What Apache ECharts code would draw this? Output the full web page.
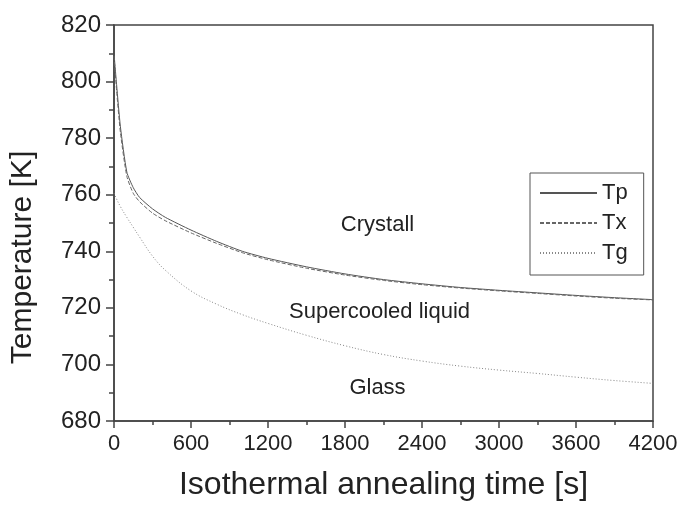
<!DOCTYPE html>
<html>
<head>
<meta charset="utf-8">
<script src="https://cdn.jsdelivr.net/npm/echarts@6/dist/echarts.min.js"></script>
<style>
html,body{margin:0;padding:0;background:#fff;}
#chart{width:681px;height:507px;}
</style>
</head>
<body>
<div id="chart"></div>
<script>
const times = [0, 20, 50, 100, 150, 200, 300, 400, 600, 800, 1000, 1200, 1500, 1800, 2100, 2400, 2700, 3000, 3300, 3600, 3900, 4200];
const tp = [810, 799, 784, 768, 762.5, 759, 755, 752, 747.5, 743.5, 740, 737.5, 734.5, 732, 730, 728.5, 727.2, 726.2, 725.3, 724.4, 723.6, 722.9];
const tx = [809, 797, 782, 766.5, 760.5, 757.5, 753.5, 750.8, 746.5, 742.8, 739.5, 737, 734, 731.6, 729.7, 728.2, 727, 726, 725.1, 724.2, 723.4, 722.8];
const tg = [760.5, 758.5, 755.8, 752, 748.5, 745, 738.3, 733.3, 726, 721.3, 717.6, 714.5, 710.3, 706.6, 703.5, 701.2, 699.4, 698, 696.8, 695.5, 694.3, 693.3];
const seriesNames = ['Tp', 'Tx', 'Tg'];
const xTicks = [0, 600, 1200, 1800, 2400, 3000, 3600, 4200];
const yTicks = [680, 700, 720, 740, 760, 780, 800, 820];
const regionLabels = ['Crystall', 'Supercooled liquid', 'Glass'];

const font = 'Arial, "Liberation Sans", sans-serif';
const chart = echarts.init(document.getElementById('chart'), null, {renderer: 'canvas'});
const pair = (vals) => times.map((t, i) => [t, vals[i]]);

chart.setOption({
  backgroundColor: '#fff',
  animation: false,
  textStyle: {fontFamily: font, color: '#222'},
  grid: {left: 113, top: 25, right: 28, bottom: 86, show: true, borderColor: '#444', borderWidth: 1.5, backgroundColor: 'transparent'},
  legend: {
    orient: 'vertical', left: 530, top: 173,
    padding: [9, 16, 11, 9],
    borderColor: '#555', borderWidth: 1,
    itemWidth: 57, itemHeight: 14, itemGap: 8,
    itemStyle: {color: 'transparent', borderWidth: 0},
    textStyle: {fontSize: 22, color: '#222', fontFamily: font, lineHeight: 22},
    data: seriesNames
  },
  xAxis: {
    type: 'value', min: xTicks[0], max: xTicks[xTicks.length - 1], interval: 600,
    name: 'Isothermal annealing time [s]', nameLocation: 'middle', nameGap: 48,
    nameTextStyle: {fontSize: 32, color: '#222', fontFamily: font},
    axisLine: {show: true, onZero: false, lineStyle: {color: '#444', width: 1.5}},
    axisTick: {show: true, length: 7, lineStyle: {color: '#444', width: 1.5}},
    minorTick: {show: true, splitNumber: 2, length: 4, lineStyle: {color: '#444', width: 1.5}},
    axisLabel: {fontSize: 22, color: '#222', margin: 12, fontFamily: font, formatter: (v) => String(v)},
    splitLine: {show: false}
  },
  yAxis: {
    type: 'value', min: yTicks[0], max: yTicks[yTicks.length - 1], interval: 20,
    name: 'Temperature [K]', nameLocation: 'middle', nameGap: 76,
    nameTextStyle: {fontSize: 30, color: '#222', fontFamily: font, padding: [0, 69, 0, 0]},
    axisLine: {show: true, onZero: false, lineStyle: {color: '#444', width: 1.5}},
    axisTick: {show: true, length: 8, lineStyle: {color: '#444', width: 1.5}},
    minorTick: {show: true, splitNumber: 2, length: 5, lineStyle: {color: '#444', width: 1.5}},
    axisLabel: {fontSize: 24, color: '#222', margin: 13, fontFamily: font, formatter: (v) => String(v)},
    splitLine: {show: false}
  },
  series: [
    {name: 'Tp', type: 'line', data: pair(tp), symbol: 'none', smooth: 0.2,
     lineStyle: {color: '#555', width: 1, type: 'solid'}, itemStyle: {color: '#555'}},
    {name: 'Tx', type: 'line', data: pair(tx), symbol: 'none', smooth: 0.2,
     lineStyle: {color: '#666', width: 1, type: [4, 2]}, itemStyle: {color: '#666'}},
    {name: 'Tg', type: 'line', data: pair(tg), symbol: 'none', smooth: 0.4,
     lineStyle: {color: '#888', width: 1, type: [1, 2]}, itemStyle: {color: '#888'}}
  ],
  graphic: [
    {type: 'text', x: 377.5, y: 225, style: {text: regionLabels[0], font: '22px ' + font, fill: '#222', textAlign: 'center', textVerticalAlign: 'middle'}},
    {type: 'text', x: 379.5, y: 311.5, style: {text: regionLabels[1], font: '22px ' + font, fill: '#222', textAlign: 'center', textVerticalAlign: 'middle'}},
    {type: 'text', x: 377.5, y: 388, style: {text: regionLabels[2], font: '22px ' + font, fill: '#222', textAlign: 'center', textVerticalAlign: 'middle'}}
  ]
});
</script>
</body>
</html>
